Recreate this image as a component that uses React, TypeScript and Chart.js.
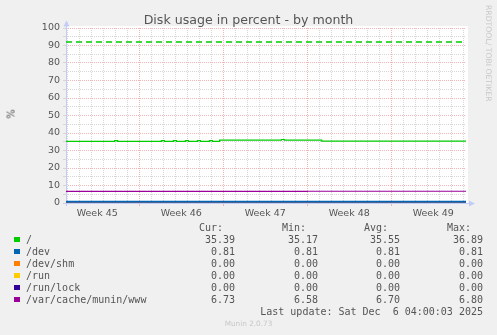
import React, { useEffect, useRef } from 'react';
import { Chart, registerables } from 'chart.js';
Chart.register(...registerables);

const TITLE = 'Disk usage in percent - by month';
const Y_LABEL = '%';
const SIDE_TEXT = 'RRDTOOL/ TOBI OETIKER';
const FOOTER = 'Munin 2.0.73';
const LAST_UPDATE = 'Last update: Sat Dec  6 04:00:03 2025';

// x axis is measured in days since the start of the window
const X_MIN = -0.1;
const X_MAX = 33.23;
const DAY_TICKS = [0, 1, 2, 3, 4, 5, 6, 7, 8, 9, 10, 11, 12, 13, 14, 15, 16, 17, 18, 19, 20, 21, 22, 23, 24, 25, 26, 27, 28, 29, 30, 31, 32, 33];
const WEEK_LABELS = ['Week 45', 'Week 46', 'Week 47', 'Week 48', 'Week 49'];
const WEEK_LABEL_DAYS = [2.5, 9.5, 16.5, 23.5, 30.5];
const WEEK_BOUNDARY_DAYS = [6, 13, 20, 27];
const Y_TICKS = [0, 5, 10, 15, 20, 25, 30, 35, 40, 45, 50, 55, 60, 65, 70, 75, 80, 85, 90, 95, 100];
const Y_LABELED = [0, 10, 20, 30, 40, 50, 60, 70, 80, 90, 100];

// series (stepped: each value holds until the next day position)
const ROOT_DAYS = [-0.1, 3.95, 4.2, 7.85, 8.1, 8.85, 9.1, 9.85, 10.1, 10.85, 11.1, 11.85, 12.1, 12.7, 17.85, 18.1, 21.2, 33.23];
const ROOT_VALUES = [35.2, 35.6, 35.2, 35.6, 35.2, 35.6, 35.2, 35.6, 35.2, 35.6, 35.2, 35.6, 35.2, 35.95, 36.3, 35.95, 35.4, 35.4];
const DEV_DAYS = [-0.1, 33.23];
const DEV_VALUES = [0.81, 0.81];
const SHM_DAYS = [-0.1, 33.23];
const SHM_VALUES = [0, 0];
const RUN_DAYS = [-0.1, 33.23];
const RUN_VALUES = [0, 0];
const LOCK_DAYS = [-0.1, 33.23];
const LOCK_VALUES = [0, 0];
const WWW_DAYS = [-0.1, 10, 20, 33.23];
const WWW_VALUES = [6.7, 6.7, 6.72, 6.73];
const WARNING_DAYS = [-0.1, 33.23];
const WARNING_VALUES = [92, 92];

const SERIES_NAMES = ['/', '/dev', '/dev/shm', '/run', '/run/lock', '/var/cache/munin/www'];
const SERIES_COLORS = ['#00cc00', '#0066b3', '#ff8000', '#ffcc00', '#330099', '#990099'];
const CUR = ['35.39', '0.81', '0.00', '0.00', '0.00', '6.73'];
const MIN = ['35.17', '0.81', '0.00', '0.00', '0.00', '6.58'];
const AVG = ['35.55', '0.81', '0.00', '0.00', '0.00', '6.70'];
const MAX = ['36.89', '0.81', '0.00', '0.00', '0.00', '6.80'];
const COL_HEADERS = ['Cur:', 'Min:', 'Avg:', 'Max:'];

const TEXT = '#555555';
const GRID_MINOR = '#d6d6d6';
const GRID_MAJOR = '#f2b6b6';
const AXIS = '#c2ccf6';

const pts = (xs: number[], ys: number[]) => xs.map((x, i) => ({ x, y: ys[i] }));

const line = (label: string, data: any, color: string, extra: any = {}) => ({
  label,
  data,
  borderColor: color,
  backgroundColor: color,
  borderWidth: 1.2,
  pointRadius: 0,
  stepped: true,
  fill: false,
  ...extra,
});

const bgPlugin = {
  id: 'muninBg',
  beforeDraw(chart: any) {
    const { ctx, chartArea: a } = chart;
    ctx.save();
    ctx.fillStyle = '#ffffff';
    ctx.fillRect(a.left, a.top - 2, a.right - a.left + 2, a.bottom - a.top + 2);
    ctx.restore();
  },
};

const axesPlugin = {
  id: 'muninAxes',
  beforeDatasetsDraw(chart: any) {
    const { ctx, chartArea: a } = chart;
    ctx.save();
    ctx.strokeStyle = AXIS;
    ctx.fillStyle = AXIS;
    ctx.lineWidth = 1;
    ctx.beginPath();
    ctx.moveTo(a.left + 0.5, a.bottom + 3);
    ctx.lineTo(a.left + 0.5, a.top - 3);
    ctx.moveTo(a.left - 3, a.bottom + 0.5);
    ctx.lineTo(a.right + 3, a.bottom + 0.5);
    ctx.stroke();
    ctx.beginPath();
    ctx.moveTo(a.left + 0.5, a.top - 7.5);
    ctx.lineTo(a.left - 2.5, a.top - 1.5);
    ctx.lineTo(a.left + 3.5, a.top - 1.5);
    ctx.closePath();
    ctx.fill();
    ctx.beginPath();
    ctx.moveTo(a.right + 9, a.bottom + 0.5);
    ctx.lineTo(a.right + 3, a.bottom - 2.5);
    ctx.lineTo(a.right + 3, a.bottom + 3.5);
    ctx.closePath();
    ctx.fill();
    ctx.restore();
  },
};

export default function App() {
  const ref = useRef<HTMLCanvasElement>(null);

  useEffect(() => {
    document.body.style.margin = '0';
    document.body.style.background = '#f0f0f0';
    const xTickValues = [...DAY_TICKS, ...WEEK_LABEL_DAYS].sort((a, b) => a - b);
    const chart = new Chart(ref.current as HTMLCanvasElement, {
      type: 'line',
      data: {
        datasets: [
          line(SERIES_NAMES[0], pts(ROOT_DAYS, ROOT_VALUES), SERIES_COLORS[0]),
          line(SERIES_NAMES[5], pts(WWW_DAYS, WWW_VALUES), SERIES_COLORS[5]),
          line(SERIES_NAMES[1], pts(DEV_DAYS, DEV_VALUES), SERIES_COLORS[1], { borderWidth: 1.8 }),
          line(SERIES_NAMES[4], pts(LOCK_DAYS, LOCK_VALUES), SERIES_COLORS[4], { borderWidth: 1 }),
          line(SERIES_NAMES[3], pts(RUN_DAYS, RUN_VALUES), SERIES_COLORS[3], { borderWidth: 1 }),
          line(SERIES_NAMES[2], pts(SHM_DAYS, SHM_VALUES), SERIES_COLORS[2], { borderWidth: 1 }),
          line('warning', pts(WARNING_DAYS, WARNING_VALUES), SERIES_COLORS[0], { borderDash: [6, 4], stepped: false, borderWidth: 1.6 }),
        ],
      },
      options: {
        animation: false,
        responsive: false,
        devicePixelRatio: 1,
        layout: { padding: { top: 28, right: 31, left: 0, bottom: 0 } },
        plugins: { legend: { display: false }, tooltip: { enabled: false }, title: { display: false } },
        scales: {
          x: {
            type: 'linear',
            min: X_MIN,
            max: X_MAX,
            afterFit: (s: any) => { s.height = 132; },
            afterBuildTicks: (s: any) => { s.ticks = xTickValues.map((v) => ({ value: v })); },
            grid: {
              color: (c: any) => {
                const v = c.tick ? c.tick.value : NaN;
                if (!DAY_TICKS.includes(v)) return 'rgba(0,0,0,0)';
                return WEEK_BOUNDARY_DAYS.includes(v) ? GRID_MAJOR : GRID_MINOR;
              },
              tickColor: (c: any) => {
                const v = c.tick ? c.tick.value : NaN;
                return WEEK_BOUNDARY_DAYS.includes(v) ? GRID_MAJOR : 'rgba(0,0,0,0)';
              },
              tickLength: 3,
              lineWidth: 1,
            },
            border: { display: false, dash: [1, 1] },
            ticks: {
              autoSkip: false,
              maxRotation: 0,
              minRotation: 0,
              padding: 2,
              color: TEXT,
              font: { family: 'DejaVu Sans', size: 9.5 },
              callback: (v: any) => {
                const i = WEEK_LABEL_DAYS.indexOf(Number(v));
                return i >= 0 ? WEEK_LABELS[i] : '';
              },
            },
          },
          y: {
            type: 'linear',
            min: 0,
            max: 100,
            afterFit: (s: any) => { s.width = 66; },
            afterBuildTicks: (s: any) => { s.ticks = Y_TICKS.map((v) => ({ value: v })); },
            grid: {
              color: (c: any) => {
                const v = c.tick ? c.tick.value : NaN;
                return Y_LABELED.includes(v) ? GRID_MAJOR : GRID_MINOR;
              },
              tickColor: GRID_MINOR,
              tickLength: 3,
              lineWidth: 1,
            },
            border: { display: false, dash: [1, 1] },
            ticks: {
              autoSkip: false,
              padding: 3,
              color: TEXT,
              font: { family: 'DejaVu Sans', size: 9.5 },
              callback: (v: any) => (Y_LABELED.includes(Number(v)) ? String(v) : ''),
            },
          },
        },
      },
      plugins: [bgPlugin, axesPlugin],
    } as any);
    return () => chart.destroy();
  }, []);

  const mono: React.CSSProperties = {
    position: 'absolute',
    fontFamily: '"DejaVu Sans Mono", monospace',
    fontSize: 10,
    lineHeight: '12px',
    color: TEXT,
    whiteSpace: 'pre',
  };
  const colEnds = [235, 318, 400, 483];
  const cols = [CUR, MIN, AVG, MAX];

  return (
    <div style={{ position: 'fixed', left: 0, top: 0, width: 497, height: 335, background: '#f0f0f0', overflow: 'hidden' }}>
      <canvas ref={ref} width={497} height={335} style={{ position: 'absolute', left: 0, top: 0, width: 497, height: 335 }} />
      <div style={{ position: 'absolute', left: 0, width: 497, top: 12, textAlign: 'center', fontFamily: '"DejaVu Sans", sans-serif', fontSize: 12.6, lineHeight: '15px', color: TEXT, whiteSpace: 'pre' }}>
        {TITLE}
      </div>
      <div style={{ position: 'absolute', left: 11, top: 114, transform: 'translate(-50%, -50%) rotate(-90deg)', fontFamily: '"DejaVu Sans", sans-serif', fontSize: 10, lineHeight: '11px', color: TEXT }}>
        {Y_LABEL}
      </div>
      <div style={{ position: 'absolute', left: 493, top: 5, transformOrigin: '0 0', transform: 'rotate(90deg)', fontFamily: '"DejaVu Sans", sans-serif', fontSize: 7.7, lineHeight: '9px', color: '#c8c8c8', whiteSpace: 'pre' }}>
        {SIDE_TEXT}
      </div>
      {COL_HEADERS.map((h, j) => (
        <div key={'h' + j} style={{ ...mono, top: 222, right: 497 - (colEnds[j] - 12) }}>{h}</div>
      ))}
      {SERIES_NAMES.map((name, i) => (
        <React.Fragment key={name}>
          <div style={{ position: 'absolute', left: 14, top: 237 + 12 * i, width: 6, height: 5, background: SERIES_COLORS[i] }} />
          <div style={{ ...mono, left: 26, top: 234 + 12 * i }}>{name}</div>
          {cols.map((c, j) => (
            <div key={j} style={{ ...mono, top: 234 + 12 * i, right: 497 - colEnds[j] }}>{c[i]}</div>
          ))}
        </React.Fragment>
      ))}
      <div style={{ ...mono, top: 306, right: 497 - 483 }}>{LAST_UPDATE}</div>
      <div style={{ position: 'absolute', left: 0, width: 497, top: 319, textAlign: 'center', fontFamily: '"DejaVu Sans", sans-serif', fontSize: 7.3, lineHeight: '9px', color: '#c8c8c8', whiteSpace: 'pre' }}>
        {FOOTER}
      </div>
    </div>
  );
}
